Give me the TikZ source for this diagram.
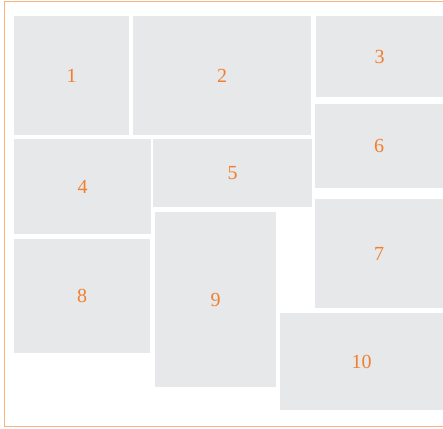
\documentclass[tikz,border=0pt]{standalone}
\usepackage{fontspec}
\setmainfont{Liberation Serif}
\usepackage{tikz}
\definecolor{cTile}{HTML}{E7E8EA}
\definecolor{cLabel}{HTML}{F07F2E}
\definecolor{cFrame}{HTML}{F9B47F}
\tikzset{
  tile/.style={fill=cTile, anchor=north west, inner sep=0pt, outer sep=0pt,
               text=cLabel, font=\fontsize{20}{24}\selectfont},
  frame/.style={draw=cFrame, line width=1pt},
}

\begin{document}
\begin{tikzpicture}[x=1pt, y=-1pt]
    \useasboundingbox (0,0) rectangle (443,428);
    \draw[frame] (4.5,2) rectangle (447,426.5);

    % top row
    \node[tile, minimum width=115pt, minimum height=119pt] (t1) at (14,16) {1};
    \node[tile, minimum width=178pt, minimum height=119pt] (t2) at (133,16) {2};
    \node[tile, minimum width=127pt, minimum height=81pt] (t3) at (316,16) {3};
    \node[tile, minimum width=128pt, minimum height=84pt] (t6) at (315,104) {6};

    % middle
    \node[tile, minimum width=137pt, minimum height=95pt] (t4) at (14,139) {4};
    \node[tile, minimum width=159pt, minimum height=68pt] (t5) at (153,139) {5};
    \node[tile, minimum width=128pt, minimum height=109pt] (t7) at (315,199) {7};

    % bottom
    \node[tile, minimum width=136pt, minimum height=114pt] (t8) at (14,239) {8};
    \node[tile, minimum width=121pt, minimum height=175pt] (t9) at (155,212) {9};
    \node[tile, minimum width=163pt, minimum height=97pt] (t10) at (280,313) {10};
\end{tikzpicture}
\end{document}
